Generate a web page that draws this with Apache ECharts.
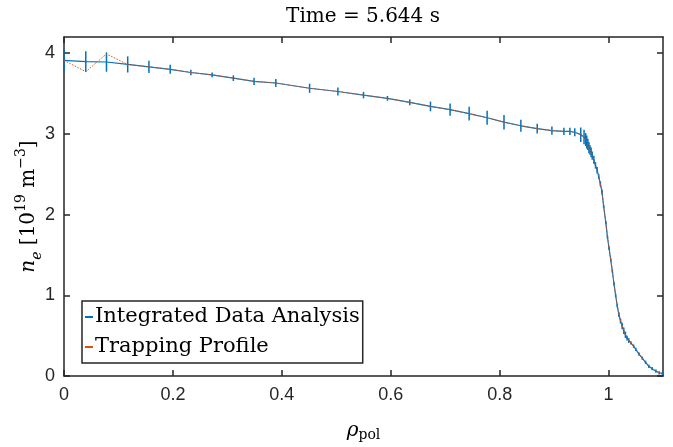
<!DOCTYPE html>
<html>
<head>
<meta charset="utf-8">
<script src="https://cdn.jsdelivr.net/npm/echarts@6/dist/echarts.min.js"></script>
<style>html,body{margin:0;padding:0;background:#fff}#c{width:673px;height:447px}</style>
</head>
<body>
<div id="c"></div>
<script>
const titleText = 'Time = 5.644 s';
const xTicks = [0, 0.2, 0.4, 0.6, 0.8, 1];
const yTicks = [0, 1, 2, 3, 4];
const seriesNames = ['Integrated Data Analysis', 'Trapping Profile'];

const rhoIDA = [0, 0.040, 0.078, 0.117, 0.156, 0.195, 0.233, 0.272, 0.311, 0.349,
  0.389, 0.451, 0.503, 0.550, 0.594, 0.635, 0.673, 0.709, 0.744, 0.777,
  0.808, 0.839, 0.869, 0.896, 0.918, 0.929, 0.938, 0.949,
  0.955, 0.958, 0.960, 0.962, 0.964, 0.966, 0.968, 0.970, 0.973, 0.976,
  0.979, 0.982, 0.985, 0.988, 0.991, 0.995, 0.998, 1.001, 1.004, 1.007,
  1.010, 1.013, 1.016, 1.019, 1.022, 1.025, 1.028, 1.031, 1.034, 1.037,
  1.041, 1.046, 1.050, 1.056, 1.062, 1.068, 1.074, 1.080, 1.087, 1.093, 1.099];
const neIDA = [3.91, 3.895, 3.89, 3.86, 3.83, 3.80, 3.76, 3.73, 3.69, 3.65,
  3.63, 3.565, 3.525, 3.48, 3.44, 3.39, 3.34, 3.30, 3.25, 3.20,
  3.145, 3.10, 3.065, 3.04, 3.03, 3.03, 3.02, 2.99,
  2.96, 2.93, 2.90, 2.87, 2.83, 2.80, 2.77, 2.73, 2.68, 2.61,
  2.55, 2.47, 2.38, 2.28, 2.10, 1.90, 1.72, 1.58, 1.44, 1.30,
  1.14, 1.00, 0.87, 0.76, 0.68, 0.62, 0.56, 0.51, 0.47, 0.44,
  0.41, 0.37, 0.33, 0.27, 0.22, 0.17, 0.12, 0.09, 0.06, 0.04, 0.03];
const errIDA = [0.13, 0.13, 0.12, 0.10, 0.075, 0.055, 0.035, 0.03, 0.035, 0.045,
  0.05, 0.057, 0.05, 0.04, 0.03, 0.037, 0.06, 0.075, 0.085, 0.087,
  0.09, 0.075, 0.06, 0.05, 0.045, 0.045, 0.05, 0.09,
  0.09, 0.08, 0.08, 0.07, 0.07, 0.06, 0.06, 0.05, 0.05, 0.04,
  0.04, 0.03, 0.03, 0.03, 0.02, 0.02, 0.02, 0.02, 0.02, 0.02,
  0.02, 0.02, 0.02, 0.03, 0.03, 0.04, 0.04, 0.04, 0.03, 0.03,
  0.02, 0.02, 0.02, 0.02, 0.02, 0.02, 0.02, 0.02, 0.02, 0.02, 0.02];

const rhoTrap = [0, 0.040, 0.078, 0.117, 0.156, 0.195, 0.233, 0.272, 0.311, 0.349,
  0.389, 0.451, 0.503, 0.550, 0.594, 0.635, 0.673, 0.709, 0.744, 0.777,
  0.808, 0.839, 0.869, 0.896, 0.918, 0.929, 0.938, 0.949,
  0.955, 0.960, 0.966, 0.970, 0.976, 0.982, 0.988, 0.995, 1.001, 1.007,
  1.013, 1.019, 1.025, 1.031, 1.037, 1.046, 1.056, 1.068, 1.080, 1.093, 1.099];
const neTrap = [3.91, 3.77, 3.99, 3.86, 3.83, 3.80, 3.76, 3.73, 3.69, 3.65,
  3.63, 3.565, 3.525, 3.48, 3.44, 3.39, 3.34, 3.30, 3.25, 3.20,
  3.145, 3.10, 3.065, 3.04, 3.03, 3.03, 3.02, 2.99,
  2.96, 2.90, 2.80, 2.73, 2.61, 2.47, 2.28, 1.90, 1.58, 1.30,
  1.00, 0.76, 0.62, 0.51, 0.44, 0.37, 0.27, 0.17, 0.09, 0.04, 0.03];

const BLUE = '#0072BD', RED = '#D95319', AX = '#262626';
const SERIF = '"DejaVu Serif", serif';
const SANS = '"Liberation Sans", Arial, sans-serif';

const idaLine = rhoIDA.map((r, i) => [r, neIDA[i]]);
const idaErr = rhoIDA.map((r, i) => [r, neIDA[i], errIDA[i]]);
const trapLine = rhoTrap.map((r, i) => [r, neTrap[i]]);

const chart = echarts.init(document.getElementById('c'), null, {renderer: 'canvas'});
const axisCommon = {
  type: 'value',
  axisLine: {show: true, onZero: false, lineStyle: {color: AX, width: 1.5}},
  splitLine: {show: false},
};
chart.setOption({
  animation: false,
  backgroundColor: '#fff',
  title: {
    text: titleText, left: 358, top: 2, textAlign: 'center',
    textStyle: {fontFamily: SERIF, fontWeight: 'normal', fontSize: 20, color: '#000'}
  },
  grid: {left: 64, right: 10, top: 37, bottom: 63, containLabel: false},
  legend: {
    orient: 'vertical', left: 82, top: 301,
    backgroundColor: '#fff', borderColor: AX, borderWidth: 1.5,
    padding: [1, 3, 1, 3], itemGap: 0, itemWidth: 8, itemHeight: 2,
    icon: 'rect',
    textStyle: {fontFamily: SERIF, fontSize: 21, color: '#000', lineHeight: 30, padding: [0, 0, 0, -3]},
    data: [{name: seriesNames[0], itemStyle: {color: BLUE}}, {name: seriesNames[1], itemStyle: {color: RED}}]
  },
  xAxis: [
    Object.assign({}, axisCommon, {
      min: 0, max: 1.1, position: 'bottom',
      name: '{i|ρ}{s|pol}', nameLocation: 'middle', nameGap: 44, nameMoveOverlap: false,
      nameTextStyle: {rich: {
        i: {fontFamily: SERIF, fontStyle: 'italic', fontSize: 20, color: '#000'},
        s: {fontFamily: SERIF, fontSize: 14, color: '#000', verticalAlign: 'bottom', padding: [8, 0, 0, 0]}
      }},
      axisTick: {show: true, inside: true, length: 6, customValues: xTicks, lineStyle: {color: AX, width: 1.5}},
      axisLabel: {show: true, margin: 10, customValues: xTicks, fontFamily: SANS, fontSize: 18, color: '#262626',
        formatter: v => String(v)}
    }),
    Object.assign({}, axisCommon, {
      min: 0, max: 1.1, position: 'top',
      axisTick: {show: true, inside: true, length: 6, customValues: xTicks, lineStyle: {color: AX, width: 1.5}},
      axisLabel: {show: false}
    })
  ],
  yAxis: [
    Object.assign({}, axisCommon, {
      min: 0, max: 4.2, position: 'left',
      name: '{i|n}{s|e} [10{p|19} m{p|−3}]', nameLocation: 'middle', nameRotate: 90, nameGap: 20,
      nameMoveOverlap: false,
      nameTextStyle: {rich: {
        i: {fontFamily: SERIF, fontStyle: 'italic', fontSize: 20, color: '#000'},
        s: {fontFamily: SERIF, fontStyle: 'italic', fontSize: 14, color: '#000', verticalAlign: 'bottom'},
        p: {fontFamily: SERIF, fontSize: 14, color: '#000', verticalAlign: 'top'}
      }, fontFamily: SERIF, fontSize: 20, color: '#000', lineHeight: 30},
      axisTick: {show: true, inside: true, length: 6, customValues: yTicks, lineStyle: {color: AX, width: 1.5}},
      axisLabel: {show: true, margin: 9, customValues: yTicks, fontFamily: SANS, fontSize: 18, color: '#262626'}
    }),
    Object.assign({}, axisCommon, {
      min: 0, max: 4.2, position: 'right',
      axisTick: {show: true, inside: true, length: 6, customValues: yTicks, lineStyle: {color: AX, width: 1.5}},
      axisLabel: {show: false}
    })
  ],
  series: [
    {
      name: seriesNames[0], type: 'line', data: idaLine, showSymbol: false, symbol: 'none',
      lineStyle: {color: BLUE, width: 1.2}, itemStyle: {color: BLUE}, z: 2
    },
    {
      name: seriesNames[0] + ' err', type: 'custom', data: idaErr, z: 3, clip: false,
      renderItem: (params, api) => {
        const x = api.value(0), y = api.value(1), e = api.value(2);
        const p1 = api.coord([x, y - e]);
        const p2 = api.coord([x, y + e]);
        return {type: 'line', shape: {x1: p1[0], y1: p1[1], x2: p2[0], y2: p2[1]},
          style: {stroke: BLUE, lineWidth: 1.5}};
      }
    },
    {
      name: seriesNames[1], type: 'line', data: trapLine, showSymbol: false, symbol: 'none',
      lineStyle: {color: RED, width: 1, type: [1.5, 1.5]}, itemStyle: {color: RED}, z: 4
    }
  ]
});
</script>
</body>
</html>
